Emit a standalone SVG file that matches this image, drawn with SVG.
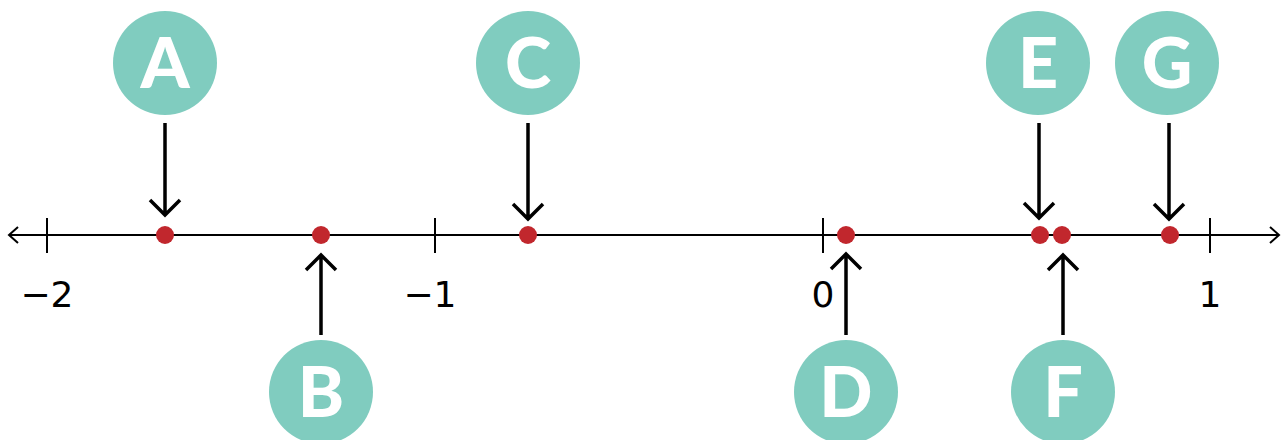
<svg xmlns="http://www.w3.org/2000/svg" width="1287" height="440" viewBox="0 0 1287 440">
<style>
.node circle{fill:#80ccbf}
.node text{font-family:Lato,"Open Sans",sans-serif;font-weight:900;font-size:70px;fill:#fff;text-anchor:middle}
.axis{stroke:#000;stroke-width:2;fill:none}
.conn{stroke:#000;stroke-width:3.5;fill:none}
.dot{fill:#c1272d}
.lbl{font-family:"DejaVu Sans",Verdana,sans-serif;font-size:36px;fill:#000;text-anchor:middle}
</style>
<g id="axis">
<line class="axis" x1="9" y1="235" x2="1279" y2="235"/>
<polyline class="axis" points="18,227 9,235 18,243"/>
<polyline class="axis" points="1270,227 1279,235 1270,243"/>
<line class="axis" x1="47" y1="218" x2="47" y2="253"/>
<line class="axis" x1="435" y1="218" x2="435" y2="253"/>
<line class="axis" x1="823" y1="218" x2="823" y2="253"/>
<line class="axis" x1="1210" y1="218" x2="1210" y2="253"/>
<text class="lbl" x="47" y="307">−2</text>
<text class="lbl" x="430" y="307">−1</text>
<text class="lbl" x="823" y="307">0</text>
<text class="lbl" x="1210" y="307">1</text>
</g>
<g id="points">
<circle class="dot" cx="165" cy="235" r="9"/>
<circle class="dot" cx="321" cy="235" r="9"/>
<circle class="dot" cx="528" cy="235" r="9"/>
<circle class="dot" cx="846" cy="235" r="9"/>
<circle class="dot" cx="1040" cy="235" r="9"/>
<circle class="dot" cx="1062" cy="235" r="9"/>
<circle class="dot" cx="1170" cy="235" r="9"/>
</g>
<g id="connectors">
<path class="conn" d="M165,123V215M150,200L165,215L180,200"/>
<path class="conn" d="M528,123V219M513,204L528,219L543,204"/>
<path class="conn" d="M1039,123V218M1024,203L1039,218L1054,203"/>
<path class="conn" d="M1169,123V219M1154,204L1169,219L1184,204"/>
<path class="conn" d="M321,335V255M306,270L321,255L336,270"/>
<path class="conn" d="M846,335V254M831,269L846,254L861,269"/>
<path class="conn" d="M1063,335V255M1048,270L1063,255L1078,270"/>
</g>
<g id="nodeA" class="node"><circle cx="165" cy="63" r="52"/><text x="165" y="88">A</text></g>
<g id="nodeC" class="node"><circle cx="528" cy="63" r="52"/><text x="528" y="88">C</text></g>
<g id="nodeE" class="node"><circle cx="1038" cy="63" r="52"/><text x="1038" y="88">E</text></g>
<g id="nodeG" class="node"><circle cx="1167" cy="63" r="52"/><text x="1167" y="88">G</text></g>
<g id="nodeB" class="node"><circle cx="321" cy="392" r="52"/><text x="321" y="417">B</text></g>
<g id="nodeD" class="node"><circle cx="846" cy="392" r="52"/><text x="846" y="417">D</text></g>
<g id="nodeF" class="node"><circle cx="1063" cy="392" r="52"/><text x="1063" y="417">F</text></g>
</svg>
